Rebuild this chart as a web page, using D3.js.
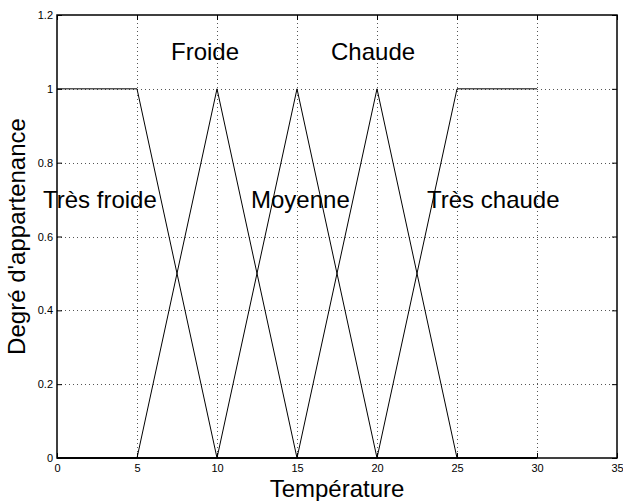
<!DOCTYPE html>
<html>
<head>
<meta charset="utf-8">
<script src="https://cdn.jsdelivr.net/npm/d3@7"></script>
<style>
  html, body { margin: 0; padding: 0; background: #fff; }
  svg { display: block; font-family: "Liberation Sans", Arial, Helvetica, sans-serif; }
</style>
</head>
<body>
<svg id="chart" width="623" height="501"></svg>
<script>
// Fuzzy membership functions for temperature
const temperature = [0, 5, 10, 15, 20, 25, 30];
const tresFroide  = [1, 1, 0, 0, 0, 0, 0];
const froide      = [0, 0, 1, 0, 0, 0, 0];
const moyenne     = [0, 0, 0, 1, 0, 0, 0];
const chaude      = [0, 0, 0, 0, 1, 0, 0];
const tresChaude  = [0, 0, 0, 0, 0, 1, 1];

const seriesList = [tresFroide, froide, moyenne, chaude, tresChaude];

// Set names and where each is written on the chart
const labelNames = ["Très froide", "Froide", "Moyenne", "Chaude", "Très chaude"];
const labelX = [-1, 7, 12, 17, 23];
const labelY = [0.7, 1.1, 0.7, 1.1, 0.7];

const xTicks = [0, 5, 10, 15, 20, 25, 30, 35];
const yTicks = [0, 0.2, 0.4, 0.6, 0.8, 1, 1.2];

const svg = d3.select("#chart");
const mLeft = 57, mRight = 617, mTop = 15, mBottom = 458;

const x = d3.scaleLinear().domain([0, 35]).range([mLeft, mRight]);
const y = d3.scaleLinear().domain([0, 1.2]).range([mBottom, mTop]);

// Dotted grid
const grid = svg.append("g")
  .attr("stroke", "#555")
  .attr("stroke-width", 1)
  .attr("stroke-dasharray", "1,3");
grid.selectAll("line.gx").data(xTicks.slice(1, -1)).join("line")
  .attr("x1", d => Math.round(x(d)) + 0.5).attr("x2", d => Math.round(x(d)) + 0.5)
  .attr("y1", mTop).attr("y2", mBottom);
grid.selectAll("line.gy").data(yTicks.slice(1, -1)).join("line")
  .attr("y1", d => Math.round(y(d)) + 0.5).attr("y2", d => Math.round(y(d)) + 0.5)
  .attr("x1", mLeft).attr("x2", mRight);

// Membership curves
const line = d3.line()
  .x((d, i) => x(temperature[i]))
  .y(d => y(d));
svg.append("g").selectAll("path").data(seriesList).join("path")
  .attr("d", line)
  .attr("fill", "none")
  .attr("stroke", "#000")
  .attr("stroke-width", 1);

// Axes: bottom/left with labels, top/right mirrored ticks only
const tickFmt = d => d3.format("")(+d.toFixed(1));
const axisStyle = g => {
  g.select(".domain").remove();
  g.selectAll(".tick line").attr("stroke", "#000");
  g.selectAll(".tick text").attr("fill", "#000")
    .style("font-size", "11px").style("font-family", "'Liberation Sans', Arial, sans-serif");
};

svg.append("g").attr("transform", `translate(0,${mBottom})`)
  .call(d3.axisBottom(x).tickValues(xTicks).tickSize(-5).tickPadding(6).tickFormat(tickFmt))
  .call(axisStyle);
svg.append("g").attr("transform", `translate(${mLeft},0)`)
  .call(d3.axisLeft(y).tickValues(yTicks).tickSize(-5).tickPadding(4).tickFormat(tickFmt))
  .call(axisStyle);
svg.append("g").attr("transform", `translate(0,${mTop})`)
  .call(d3.axisTop(x).tickValues(xTicks).tickSize(-5).tickFormat(""))
  .call(axisStyle);
svg.append("g").attr("transform", `translate(${mRight},0)`)
  .call(d3.axisRight(y).tickValues(yTicks).tickSize(-5).tickFormat(""))
  .call(axisStyle);

// Box
svg.append("rect")
  .attr("x", mLeft).attr("y", mTop)
  .attr("width", mRight - mLeft).attr("height", mBottom - mTop)
  .attr("fill", "none").attr("stroke", "#000").attr("stroke-width", 1.5);

// Set names
svg.append("g").selectAll("text").data(labelNames).join("text")
  .attr("x", (d, i) => x(labelX[i]) + 2)
  .attr("y", (d, i) => y(labelY[i]) + 8.5)
  .attr("font-size", 24)
  .attr("fill", "#000")
  .text(d => d);

// Axis titles
svg.append("text")
  .attr("x", (mLeft + mRight) / 2).attr("y", 497)
  .attr("text-anchor", "middle").attr("font-size", 24).attr("fill", "#000")
  .text("Température");
svg.append("text")
  .attr("transform", `translate(25,${(mTop + mBottom) / 2}) rotate(-90)`)
  .attr("text-anchor", "middle").attr("font-size", 24).attr("fill", "#000")
  .text("Degré d'appartenance");
</script>
</body>
</html>
